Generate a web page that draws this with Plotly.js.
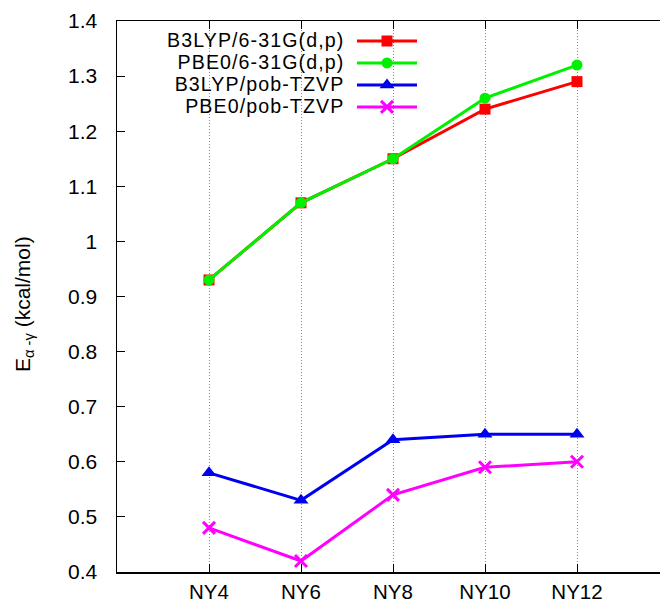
<!DOCTYPE html>
<html><head><meta charset="utf-8">
<script src="https://cdn.plot.ly/plotly-3.0.1.min.js"></script>
<style>html,body{margin:0;background:#fff;overflow:hidden}#c{width:670px;height:602px}</style>
</head><body><div id="c"></div>
<script>
const categories = ["NY4","NY6","NY8","NY10","NY12"];
const catPos = [1,2,3,4,5];
const seriesNames = ["B3LYP/6-31G(d,p)","PBE0/6-31G(d,p)","B3LYP/pob-TZVP","PBE0/pob-TZVP"];
const b3lyp631 = [0.93,1.07,1.15,1.24,1.29];
const pbe0631 = [0.93,1.07,1.15,1.26,1.32];
const b3lypTZVP = [0.58,0.53,0.64,0.65,0.65];
const pbe0TZVP = [0.48,0.42,0.54,0.59,0.60];
const yTicks = [0.4,0.5,0.6,0.7,0.8,0.9,1,1.1,1.2,1.3,1.4];
const yTitle = 'E<sub>α -γ</sub> (kcal/mol)';

const colors = ["#ff0000","#00f000","#0000f0","#ff00ff"];
const symbols = ["square","circle","triangle-up","x-thin"];
const sizes = [11,11,13,12];
const vals = [b3lyp631,pbe0631,b3lypTZVP,pbe0TZVP];

const traces = vals.map((v,i)=>({
  x: catPos, y: v, type:'scatter', mode:'lines+markers', name:' ',
  line:{color:colors[i], width:3},
  marker: i===3 ? {symbol:symbols[i], size:sizes[i], color:colors[i], line:{color:colors[i], width:3}}
               : {symbol:symbols[i], size:sizes[i], color:colors[i], line:{width:0}},
  showlegend:true
}));

const plotTop=21, plotBot=572, plotL=117, plotR=669;
const W=plotR-plotL, H=plotBot-plotTop;
const annotations = [{
  text: seriesNames.map(n=>'<span style="font-size:19.6px;letter-spacing:1.1px">'+n+'</span>').join('<br>'),
  xref:'paper', yref:'paper', x:(346-plotL)/W, y:(plotBot-73)/H,
  xanchor:'right', yanchor:'middle', showarrow:false, align:'right',
  font:{family:'Liberation Sans, Arial, sans-serif', size:17, color:'#000'}
},{
  text:yTitle, xref:'paper', yref:'paper', x:(24-plotL)/W, y:(plotBot-304)/H,
  xanchor:'center', yanchor:'middle', textangle:-90, showarrow:false,
  font:{family:'Liberation Sans, Arial, sans-serif', size:21, color:'#000'}
}];

const layout = {
  width:670, height:602,
  margin:{l:plotL, r:670-plotR, t:plotTop, b:602-plotBot},
  paper_bgcolor:'#fff', plot_bgcolor:'#fff',
  font:{family:'Liberation Sans, Arial, sans-serif', size:21, color:'#000'},
  showlegend:true,
  legend:{x:(352-plotL)/W, y:(plotBot-25)/H, xanchor:'left', yanchor:'top',
    bgcolor:'rgba(0,0,0,0)', font:{size:14.6}, tracegroupgap:0, itemwidth:60, traceorder:'normal'},
  xaxis:{range:[0,6], tickvals:catPos, ticktext:categories, showline:true, linecolor:'#000', linewidth:1.5,
    mirror:'ticks', ticks:'inside', ticklen:8, tickcolor:'#000', showgrid:true, gridcolor:'#888', griddash:'1px,2px', gridwidth:1,
    zeroline:false, tickfont:{size:20.5}, ticklabelstandoff:1},
  yaxis:{range:[0.4,1.4], tickvals:yTicks, ticktext:yTicks.map(String), showline:true, linecolor:'#000', linewidth:1.5,
    ticks:'inside', ticklen:8, tickcolor:'#000', showgrid:false, zeroline:false, tickfont:{size:21}, ticklabelstandoff:14},
  annotations: annotations
};
Plotly.newPlot('c', traces, layout, {displayModeBar:false, staticPlot:true});
</script></body></html>
